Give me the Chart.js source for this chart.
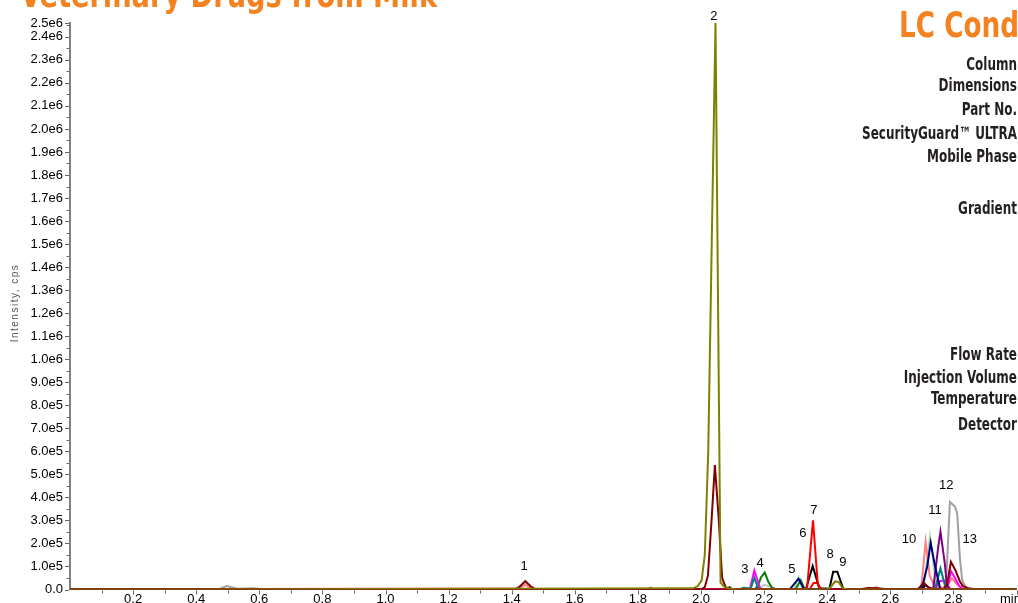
<!DOCTYPE html>
<html>
<head>
<meta charset="utf-8">
<title>Veterinary Drugs from Milk</title>
<script src="https://cdn.jsdelivr.net/npm/chart.js@4/dist/chart.umd.min.js"></script>
<style>
  html, body { margin: 0; padding: 0; width: 1018px; height: 603px; overflow: hidden; background: #fff; }
  #chart { position: absolute; left: 0; top: 0; }
</style>
</head>
<body>
<canvas id="chart" width="1100" height="640"></canvas>
<script>
// Axis tick labels
const xTickLabels = ['0.2','0.4','0.6','0.8','1.0','1.2','1.4','1.6','1.8','2.0','2.2','2.4','2.6','2.8'];
const xUnitLabel = 'min';
const yTickLabels = ['0.0','1.0e5','2.0e5','3.0e5','4.0e5','5.0e5','6.0e5','7.0e5','8.0e5','9.0e5',
  '1.0e6','1.1e6','1.2e6','1.3e6','1.4e6','1.5e6','1.6e6','1.7e6','1.8e6','1.9e6',
  '2.0e6','2.1e6','2.2e6','2.3e6','2.4e6'];
const yTopLabel = '2.5e6';
const xMax = 3.0;
const yMax = 2.46e6;

// Extracted ion chromatograms: [retention time (min), intensity (cps)]
const olive = [[0,0],[0.4,0],[1.975,5e3],[1.99,1.5e4],[2.002,4e4],[2.012,1.5e5],[2.023,6e5],[2.034,1.5e6],[2.046,2.46e6],
  [2.062,3e4],[2.075,1e4],[2.09,4e3],[2.11,1e3],[2.40,0],[2.412,1.2e4],[2.425,3.5e4],[2.437,3.2e4],[2.448,8e3],[2.46,0],[3.0,0]];
const maroon = [[0,0],[1.41,0],[1.425,1.2e4],[1.443,3.6e4],[1.46,1.4e4],[1.475,2e3],[1.5,0],
  [2.0,0],[2.012,1e4],[2.022,6e4],[2.033,2.9e5],[2.044,5.4e5],[2.056,3.1e5],[2.067,5e4],[2.078,1e4],[2.1,0],
  [2.5,0],[2.53,6e3],[2.56,5e3],[2.6,0],[2.685,0],[2.695,1.2e4],[2.705,3e4],[2.72,1e4],[2.735,2e3],
  [2.77,3e3],[2.78,2e4],[2.792,1.2e5],[2.806,8.5e4],[2.821,3.4e4],[2.83,1.5e4],[2.85,4e3],[2.88,0],[3.0,0]];
const red = [[0,0],[2.336,2e3],[2.355,3.0e5],[2.37,2.5e4],[2.377,3e3],[2.39,0],[3.0,0]];
const redMinor = [[0,0],[2.345,3e3],[2.357,2.8e4],[2.368,2.8e4],[2.38,3e3],[2.39,0],[3.0,0]];
const black = [[0,0],[2.08,0],[2.09,1e4],[2.1,0],[2.333,3e3],[2.354,1.02e5],[2.375,5e3],[2.407,3e3],[2.419,7.7e4],
  [2.432,7.7e4],[2.451,3e3],[2.46,0],[2.70,0],[2.712,2e4],[2.72,1e4],[2.73,0],[3.0,0]];
const navy = [[0,0],[2.282,2e3],[2.309,4.7e4],[2.326,3e3],[2.34,0],[2.700,3e3],[2.717,1e5],[2.728,2.03e5],
  [2.742,1e5],[2.758,3e3],[2.77,0],[3.0,0]];
const purple = [[0,0],[2.72,0],[2.736,3e3],[2.752,1.86e5],[2.759,2.51e5],[2.773,1.1e5],[2.779,2e4],[2.79,3e3],[2.8,0],[3.0,0]];
const teal = [[0,0],[2.12,0],[2.135,8e3],[2.15,5e3],[2.157,2e3],[2.169,5e4],[2.182,3e3],[2.2,0],
  [2.73,0],[2.742,3e3],[2.759,9.2e4],[2.776,3e3],[2.79,0],[3.0,0]];
const magenta = [[0,0],[1.83,0],[1.84,8e3],[1.85,0],[2.145,0],[2.155,2e3],[2.169,8.3e4],[2.187,5e3],[2.2,0],
  [2.73,0],[2.742,2e3],[2.755,3.5e4],[2.77,4e4],[2.782,1e4],[2.792,8e4],[2.805,5e4],[2.818,1.5e4],[2.83,3e3],[2.84,0],[3.0,0]];
const green = [[0,0],[2.172,2e3],[2.182,2.2e4],[2.19,5.2e4],[2.202,7.4e4],[2.213,3.5e4],[2.225,8e3],[2.24,0],
  [2.3,2e3],[2.316,4e4],[2.328,3e3],[2.34,0],[3.0,0]];
const salmon = [[0,0],[1.425,5e3],[1.443,2.2e4],[1.46,6e3],[1.475,0],[2.54,0],[2.555,1e4],[2.57,0],
  [2.698,3e3],[2.712,2.08e5],[2.725,6e4],[2.74,1.5e4],[2.76,8e3],[2.78,1.5e4],[2.795,4.9e4],[2.81,2.5e4],[2.83,5e3],[2.85,0],[3.0,0]];
const gray = [[0,0],[0.47,0],[0.497,1.5e4],[0.53,3e3],[0.58,5e3],[0.62,0],[2.766,0],[2.776,3e3],[2.789,3.8e5],
  [2.805,3.6e5],[2.812,3.3e5],[2.821,1.3e5],[2.828,4e4],[2.84,5e3],[2.86,0],[3.0,0]];
const lightGreen = [[0,0],[2.295,3e3],[2.309,5.3e4],[2.322,3e3],[2.33,0],[2.705,3e3],[2.726,2.3e5],[2.745,2e4],[2.76,0],[3.0,0]];
const silver = [[0,0],[2.18,0],[2.2,2e4],[2.215,1.5e4],[2.23,0],[3.0,0]];

// Peak numbers and where they sit (time, intensity)
const peakNames = ['1','2','3','4','5','6','7','8','9','10','11','12','13'];
const peakLabelTimes = [1.439,2.041,2.139,2.187,2.288,2.323,2.358,2.409,2.450,2.659,2.742,2.777,2.852];
const peakLabelLevels = [1.02e5,2.49e6,0.89e5,1.15e5,0.89e5,2.45e5,3.45e5,1.54e5,1.19e5,2.17e5,3.45e5,4.54e5,2.17e5];

// LC conditions sidebar
const lcHeading = 'LC Conditions';
const lcFields = ['Column','Dimensions','Part No.','SecurityGuard™ ULTRA','Mobile Phase','Gradient',
  'Flow Rate','Injection Volume','Temperature','Detector'];
const lcFieldBaselines = [69.5, 91, 115, 138.5, 162, 213.5, 359.5, 382.5, 404, 430];
const pageTitle = 'Veterinary Drugs from Milk';

const traces = [
  { data: olive, color: '#808000' },
  { data: maroon, color: '#800000' },
  { data: red, color: '#FF0000' },
  { data: navy, color: '#000080' },
  { data: black, color: '#000000' },
  { data: purple, color: '#800080' },
  { data: teal, color: '#008080' },
  { data: magenta, color: '#FF00FF' },
  { data: green, color: '#008000' },
  { data: salmon, color: '#FF7F7F' },
  { data: gray, color: '#A0A0A0' },
  { data: lightGreen, color: '#A8D8A8' },
  { data: redMinor, color: '#FF0000' },
  { data: silver, color: '#C8C8C8' }
];

const AXIS = '#808080';
const TEXT_FONT = '"Liberation Sans", Arial, sans-serif';
const COND_FONT = '"DejaVu Sans Condensed", "Liberation Sans", sans-serif';

const xLabelMap = new Map(xTickLabels.map(l => [parseFloat(l), l]));
const yLabelMap = new Map(yTickLabels.map(l => [parseFloat(l), l]));
yLabelMap.set(yMax, yTopLabel);

// draws text squeezed horizontally so that `ref` would span `refWidth` px
function condensedText(ctx, text, x, y, align, ref, refWidth) {
  const sx = refWidth / ctx.measureText(ref).width;
  ctx.save();
  ctx.translate(x, y);
  ctx.scale(sx, 1);
  ctx.textAlign = align;
  ctx.fillText(text, 0, 0);
  ctx.restore();
}

// Tick marks (major + minor) and all page text
const decorations = {
  id: 'decorations',
  afterDraw(chart) {
    const ctx = chart.ctx;
    const xs = chart.scales.x, ys = chart.scales.y;
    const area = chart.chartArea;
    ctx.save();
    ctx.strokeStyle = '#666';
    ctx.lineWidth = 1;
    // y ticks every 5e4, labelled every 1e5
    for (let k = 0; k * 5e4 <= yMax; k++) {
      const v = k * 5e4;
      const py = Math.round(ys.getPixelForValue(v)) + 0.5;
      const len = (k % 2 === 0) ? 4 : 2.5;
      ctx.beginPath(); ctx.moveTo(area.left - 1 - len, py); ctx.lineTo(area.left - 1, py); ctx.stroke();
    }
    const pyTop = Math.round(ys.getPixelForValue(yMax)) + 0.5;
    ctx.beginPath(); ctx.moveTo(area.left - 5, pyTop); ctx.lineTo(area.left - 1, pyTop); ctx.stroke();
    // x ticks every 0.1 min
    for (let k = 1; k / 10 <= xMax; k++) {
      const px = Math.round(xs.getPixelForValue(k / 10)) + 0.5;
      const len = (k % 2 === 0) ? 4 : 3;
      ctx.beginPath(); ctx.moveTo(px, area.bottom + 1); ctx.lineTo(px, area.bottom + 1 + len); ctx.stroke();
    }
    // time unit
    ctx.fillStyle = '#000';
    ctx.font = '13px ' + TEXT_FONT;
    ctx.textAlign = 'left';
    ctx.textBaseline = 'middle';
    ctx.fillText(xUnitLabel, 1000, area.bottom + 2 + 7.8);

    // y axis title
    ctx.save();
    ctx.translate(15, 303);
    ctx.rotate(-Math.PI / 2);
    ctx.fillStyle = '#555';
    ctx.font = '10px ' + TEXT_FONT;
    ctx.letterSpacing = '1.5px';
    ctx.textAlign = 'center';
    ctx.textBaseline = 'middle';
    ctx.fillText('Intensity, cps', 0, 0);
    ctx.restore();

    // peak numbers
    ctx.fillStyle = '#000';
    ctx.font = '13px ' + TEXT_FONT;
    ctx.textAlign = 'center';
    ctx.textBaseline = 'middle';
    peakNames.forEach((n, i) => {
      ctx.fillText(n, xs.getPixelForValue(peakLabelTimes[i]), ys.getPixelForValue(peakLabelLevels[i]));
    });

    // headings
    ctx.fillStyle = '#F58220';
    ctx.font = 'bold 35px ' + COND_FONT;
    ctx.textBaseline = 'alphabetic';
    condensedText(ctx, pageTitle, 20, 7, 'left', pageTitle, 417);
    condensedText(ctx, lcHeading, 899, 37, 'left', 'LC Cond', 120);

    // LC condition field names
    ctx.fillStyle = '#231F20';
    ctx.font = 'bold 17px ' + COND_FONT;
    lcFields.forEach((f, i) => condensedText(ctx, f, 1017, lcFieldBaselines[i], 'right', 'SecurityGuard™ ULTRA', 155));
    ctx.restore();
  }
};

new Chart(document.getElementById('chart'), {
  type: 'line',
  data: {
    datasets: traces.map(t => ({
      data: t.data.map(p => ({ x: p[0], y: p[1] })),
      borderColor: t.color,
      borderWidth: 2,
      pointRadius: 0,
      tension: 0,
      fill: false
    }))
  },
  options: {
    responsive: false,
    animation: false,
    devicePixelRatio: 1,
    layout: { padding: { left: 0, top: 23, right: 83.5, bottom: 0 } },
    plugins: { legend: { display: false }, tooltip: { enabled: false }, title: { display: false } },
    scales: {
      x: {
        type: 'linear',
        min: 0,
        max: xMax,
        afterFit: s => { s.height = 640 - 589.5; },
        afterBuildTicks: s => { s.ticks = xTickLabels.map(l => ({ value: parseFloat(l) })); },
        grid: { display: false, drawTicks: false },
        border: { display: true, color: AXIS, width: 1 },
        ticks: {
          autoSkip: false, maxRotation: 0, minRotation: 0, padding: 2,
          color: '#000', font: { family: TEXT_FONT, size: 13 },
          callback: v => xLabelMap.get(Math.round(v * 10) / 10) || ''
        }
      },
      y: {
        type: 'linear',
        min: 0,
        max: yMax,
        afterFit: s => { s.width = 70; },
        afterBuildTicks: s => {
          const t = yTickLabels.map(l => ({ value: parseFloat(l) }));
          t.push({ value: yMax });
          s.ticks = t;
        },
        grid: { display: false, drawTicks: false },
        border: { display: true, color: AXIS, width: 2 },
        ticks: {
          autoSkip: false, padding: 7,
          color: '#000', font: { family: TEXT_FONT, size: 13 },
          callback: v => yLabelMap.get(v) || ''
        }
      }
    }
  },
  plugins: [decorations]
});
</script>
</body>
</html>
